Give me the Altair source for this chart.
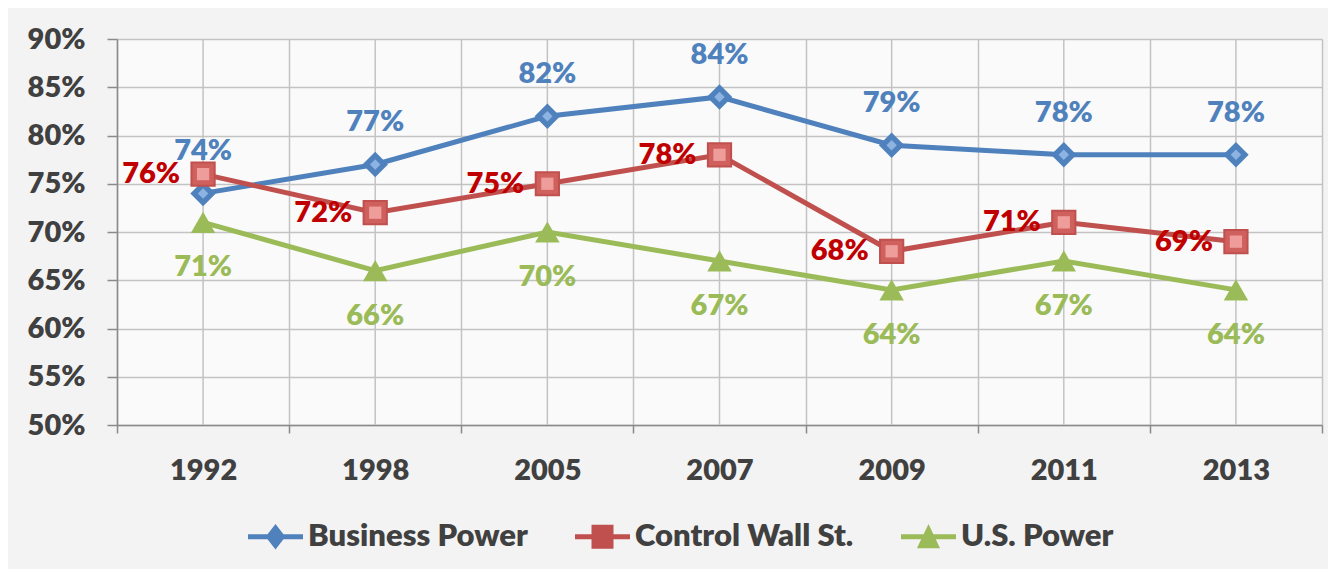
import altair as alt
import pandas as pd

years = ["1992", "1998", "2005", "2007", "2009", "2011", "2013"]
series = ["Business Power", "Control Wall St.", "U.S. Power"]
business = [74, 77, 82, 84, 79, 78, 78]
wallst = [76, 72, 75, 78, 68, 71, 69]
uspower = [71, 66, 70, 67, 64, 67, 64]
y_ticks = [50, 55, 60, 65, 70, 75, 80, 85, 90]

line_colors = ["#4F81BD", "#C0504D", "#9BBB59"]
text_colors = ["#4F81BD", "#C00000", "#9BBB59"]

rows = []
for s, vals in zip(series, [business, wallst, uspower]):
    for yr, v in zip(years, vals):
        rows.append({"year": yr, "series": s, "value": v})
df = pd.DataFrame(rows)
grid_df = pd.DataFrame({"year": years})

W, H = 1205, 386
FONT = "Lato"
FW = 800
AXIS_C = "#404040"
GRID_C = "#c3c3c3"

xenc = alt.X("year:N", sort=years,
             scale=alt.Scale(domain=years, paddingInner=0, paddingOuter=0),
             axis=alt.Axis(title=None, labelAngle=0, labelAlign="center", tickBand="extent",
                           grid=True, gridColor=GRID_C, gridWidth=1.5, tickSize=8,
                           tickColor="#8a8a8a", tickWidth=1.5, domainColor="#8a8a8a",
                           domainWidth=1.5, labelFont=FONT, labelFontSize=29,
                           labelFontWeight=FW, labelColor=AXIS_C, labelPadding=37))
yscale = alt.Scale(domain=[y_ticks[0], y_ticks[-1]], nice=False, zero=False)
yenc = alt.Y("value:Q", scale=yscale,
             axis=alt.Axis(title=None, values=y_ticks, labelExpr="datum.value + '%'",
                           grid=True, gridColor=GRID_C, gridWidth=1.5, tickSize=10,
                           tickColor="#8a8a8a", tickWidth=1.5, domainColor="#8a8a8a",
                           domainWidth=1.5, labelFont=FONT, labelFontSize=29,
                           labelFontWeight=FW, labelColor=AXIS_C, labelPadding=22))

base = alt.Chart(df).encode(x=xenc, y=yenc)

center_rules = alt.Chart(grid_df).mark_rule(color=GRID_C, strokeWidth=1.5).encode(
    x=alt.X("year:N", sort=years),
    y=alt.datum(y_ticks[0]),
    y2=alt.datum(y_ticks[-1]),
)

line_layers = [
    base.transform_filter(alt.datum.series == s).mark_line(strokeWidth=5, color=c)
    for s, c in zip(series, line_colors)
]

legend_paths = [
    "M-1,-0.09L1,-0.09L1,0.09L-1,0.09Z M0,-0.46L0.36,0L0,0.46L-0.36,0Z",
    "M-1,-0.09L1,-0.09L1,0.09L-1,0.09Z M-0.4,-0.44L0.4,-0.44L0.4,0.44L-0.4,0.44Z",
    "M-1,-0.09L1,-0.09L1,0.09L-1,0.09Z M0,-0.46L0.42,0.42L-0.42,0.42Z",
]
leg = alt.Legend(orient="none", legendX=131, legendY=470, direction="horizontal",
                 labelFont=FONT, labelFontSize=31, labelFontWeight=FW, labelColor=AXIS_C,
                 symbolSize=3025, symbolOpacity=1, symbolStrokeWidth=0, labelOffset=5,
                 columnPadding=47, labelLimit=400)
legend_layer = alt.Chart(df).mark_point(filled=True, opacity=1, size=0).encode(
    x=alt.X("year:N", sort=years),
    y=alt.Y("value:Q"),
    color=alt.Color("series:N", title="", scale=alt.Scale(domain=series, range=line_colors), legend=leg),
    shape=alt.Shape("series:N", title="", scale=alt.Scale(domain=series, range=legend_paths), legend=leg),
)

pts_blue = base.transform_filter(alt.datum.series == series[0]).mark_point(
    shape="diamond", filled=True, size=650, color="#4F81BD", opacity=1)
pts_blue_in = base.transform_filter(alt.datum.series == series[0]).mark_point(
    shape="diamond", filled=True, size=110, color="#8DB3E2", opacity=1)
pts_red = base.transform_filter(alt.datum.series == series[1]).mark_point(
    shape="square", filled=True, size=540, fill="#D0605D", stroke="#C0504D",
    strokeWidth=2, opacity=1, fillOpacity=1)
pts_red_in = base.transform_filter(alt.datum.series == series[1]).mark_point(
    shape="square", filled=True, size=150, color="#EE9D9B", opacity=1)
pts_green = base.transform_filter(alt.datum.series == series[2]).mark_point(
    shape="triangle-up", filled=True, size=600, color="#9BBB59", opacity=1)

lab = base.transform_calculate(label="datum.value + '%'")
txt_kw = dict(font=FONT, fontSize=29, fontWeight=FW, baseline="middle")
t_blue = lab.transform_filter(alt.datum.series == series[0]).mark_text(
    color=text_colors[0], dy=-42, align="center", **txt_kw).encode(text="label:N")
t_red = lab.transform_filter(alt.datum.series == series[1]).mark_text(
    color=text_colors[1], dx=-23, align="right", **txt_kw).encode(text="label:N")
t_green = lab.transform_filter(alt.datum.series == series[2]).mark_text(
    color=text_colors[2], dy=45, align="center", **txt_kw).encode(text="label:N")

chart = alt.layer(
    center_rules, *line_layers, legend_layer, pts_blue, pts_blue_in, pts_red, pts_red_in,
    pts_green, t_blue, t_red, t_green
).properties(
    width=W, height=H,
    autosize=alt.AutoSizeParams(type="none"),
    padding={"left": 109, "top": 31, "right": 6, "bottom": 144},
    background="#f3f3f3",
).configure_view(fill="#fafafa", stroke=None)

chart.save("out.html", embed_options={"renderer": "svg", "actions": False})
